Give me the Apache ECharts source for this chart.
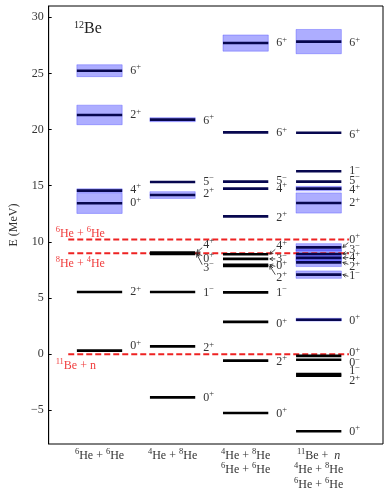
<!DOCTYPE html>
<html><head><meta charset="utf-8">
<script src="https://cdn.jsdelivr.net/npm/echarts@6/dist/echarts.min.js"></script>
<style>html,body{margin:0;padding:0;background:#fff}#c{width:391px;height:496px}</style>
</head><body><div id="c"></div>
<script>
// ---------------- data ----------------
const columnLabels = [
  '⁶He + ⁶He',
  '⁴He + ⁸He',
  '⁴He + ⁸He\n⁶He + ⁶He',
  '¹¹Be +  {i|n}\n⁴He + ⁸He\n⁶He + ⁶He'
];
const yTicks = [-5, 0, 5, 10, 15, 20, 25, 30];

// column 1: 6He+6He
const col1Energy = [25.24, 21.30, 14.56, 13.43, 5.54, 0.31];
const col1HalfWidth = [0.53, 0.87, 0.16, 0.90, 0, 0];
const col1Jpi = ['6⁺', '2⁺', '4⁺', '0⁺', '2⁺', '0⁺'];

// column 2: 4He+8He
const col2Energy = [20.88, 15.33, 14.17, 9.05, 8.98, 8.92, 5.54, 0.69, -3.85];
const col2HalfWidth = [0.18, 0, 0.30, 0, 0, 0, 0, 0, 0];
const col2Jpi = ['6⁺', '5⁻', '2⁺', '4⁺', '0⁺', '3⁻', '1⁻', '2⁺', '0⁺'];

// column 3: 4He+8He, 6He+6He
const col3Energy = [27.70, 19.75, 15.36, 14.74, 12.27, 8.90, 8.48, 7.95, 7.85, 5.50, 2.87, -0.58, -5.24];
const col3HalfWidth = [0.72, 0, 0, 0, 0, 0, 0, 0, 0, 0, 0, 0, 0];
const col3Jpi = ['6⁺', '6⁺', '5⁻', '4⁺', '2⁺', '4⁺', '3⁻', '0⁺', '2⁺', '1⁻', '0⁺', '2⁺', '0⁺'];

// column 4: 11Be+n, 4He+8He, 6He+6He
const col4Energy = [27.83, 19.72, 16.28, 15.36, 14.74, 13.46, 9.51, 8.92, 8.57, 8.17, 7.08, 3.07, -0.15, -0.50, -1.78, -1.92, -6.87];
const col4HalfWidth = [1.08, 0, 0, 0, 0.20, 0.90, 0.33, 0.40, 0.30, 0.37, 0.33, 0.12, 0, 0, 0, 0, 0];
const col4Jpi = ['6⁺', '6⁺', '1⁻', '5⁻', '4⁺', '2⁺', '0⁺', '3⁻', '4⁺', '2⁺', '1⁻', '0⁺', '0⁺', '0⁻', '1⁻', '2⁺', '0⁺'];

// thresholds
const thresholdEnergy = [10.2, 8.98, 0.0];
const thresholdNames = ['⁶He + ⁶He', '⁸He + ⁴He', '¹¹Be + n'];

// ---------------- layout (label placement, not data) ----------------
const col1LabelAt = [25.24, 21.30, 14.65, 13.43, 5.54, 0.70];
const col2LabelAt = [20.79, 15.36, 14.29, 9.75, 8.50, 7.70, 5.48, 0.55, -3.87];
const col3LabelAt = [27.70, 19.70, 15.40, 14.74, 12.15, 9.60, 8.48, 7.82, 6.81, 5.48, 2.70, -0.67, -5.30];
const col4LabelAt = [27.70, 19.55, 16.30, 15.45, 14.60, 13.46, 10.20, 9.30, 8.60, 7.73, 6.93, 2.98, 0.10, -0.78, -1.53, -2.42, -6.90];
const arrowGroups = [[], [3, 4, 5], [5, 6, 7, 8], [6, 7, 8, 9, 10]];
const thresholdLabelAt = [10.82, 8.15, -0.93];
const THR_X0 = 0.572, THR_X1 = 4.414, THR_TX = 0.40;
const HALF = 0.31, LABEL_DX = 8;
const X_MIN = 0.304, X_MAX = 4.88, Y_MIN = -8, Y_MAX = 31;

const FONT = '"Liberation Serif", "DejaVu Serif", serif';
const NAVY = '#07074f';
const BAND = 'rgba(0,0,255,0.32)';
const RED = '#ee2222';
const TXT = '#333';

// superscript -> rich text
const SUP = { '⁰': '0', '¹': '1', '²': '2', '³': '3', '⁴': '4', '⁵': '5', '⁶': '6', '⁷': '7', '⁸': '8', '⁹': '9', '⁺': '+', '⁻': '−' };
function rich(s, m, sp) {
  let out = '', cur = '', mode = null;
  const flush = () => { if (cur) { out += '{' + mode + '|' + cur + '}'; cur = ''; } };
  for (let i = 0; i < s.length; i++) {
    const ch = s[i];
    if (ch === '{') { flush(); const j = s.indexOf('}', i); out += s.slice(i, j + 1); i = j; mode = null; continue; }
    if (ch === '\n') { flush(); out += '\n'; mode = null; continue; }
    const md = SUP[ch] !== undefined ? sp : m;
    if (md !== mode) { flush(); mode = md; }
    cur += SUP[ch] !== undefined ? SUP[ch] : ch;
  }
  flush();
  return out;
}
function richStyles(size, supSize, lh, color, supLh) {
  return {
    m: { fontSize: size, fontFamily: FONT, lineHeight: lh, verticalAlign: 'bottom', fill: color, color: color },
    s: { fontSize: supSize, fontFamily: FONT, lineHeight: supLh, verticalAlign: 'top', fill: color, color: color },
    i: { fontSize: size, fontFamily: FONT, fontStyle: 'italic', lineHeight: lh, verticalAlign: 'bottom', fill: color, color: color }
  };
}
const LEVEL_RICH = richStyles(12, 8.5, 14, TXT, 11.5);
const THR_RICH = richStyles(12, 8.5, 14, '#f03c3c', 11);

// ---------------- build ----------------
const cols = [
  [col1Energy, col1HalfWidth, col1Jpi, col1LabelAt],
  [col2Energy, col2HalfWidth, col2Jpi, col2LabelAt],
  [col3Energy, col3HalfWidth, col3Jpi, col3LabelAt],
  [col4Energy, col4HalfWidth, col4Jpi, col4LabelAt]
];
const levelData = [], levelText = [];
cols.forEach((c, k) => {
  c[0].forEach((e, i) => {
    levelData.push([k + 1, e, c[1][i], c[3][i], arrowGroups[k].includes(i) ? 1 : 0]);
    levelText.push(c[2][i]);
  });
});

function bandItem(params, api) {
  const c = api.value(0), e = api.value(1), w = api.value(2);
  if (!(w > 0)) return null;
  const p1 = api.coord([c - HALF, e + w]), p2 = api.coord([c + HALF, e - w]);
  return {
    type: 'rect',
    shape: { x: p1[0], y: p1[1], width: p2[0] - p1[0], height: p2[1] - p1[1] },
    style: { fill: BAND, stroke: 'rgba(60,60,255,0.35)', lineWidth: 1 }
  };
}

function levelItem(params, api) {
  const c = api.value(0), e = api.value(1), w = api.value(2), le = api.value(3), arrow = api.value(4);
  const l = api.coord([c - HALF, e]), r = api.coord([c + HALF, e]);
  const ly = api.coord([c, le])[1];
  const navy = (w > 0) || e >= 12;
  const children = [{
    type: 'line',
    shape: { x1: l[0], y1: l[1], x2: r[0], y2: r[1] },
    style: { stroke: navy ? NAVY : '#000', lineWidth: 2.6 }
  }, {
    type: 'text',
    x: r[0] + LABEL_DX, y: ly - 1,
    style: { text: rich(levelText[params.dataIndex], 'm', 's'), rich: LEVEL_RICH, verticalAlign: 'middle', align: 'left' }
  }];
  if (arrow) {
    const sx = r[0] + LABEL_DX - 1, sy = ly + (ly < r[1] - 2 ? 3 : (ly > r[1] + 2 ? -3 : 0));
    const tx = r[0] + 1.5, ty = r[1];
    const dx = tx - sx, dy = ty - sy, len = Math.hypot(dx, dy) || 1;
    const ux = dx / len, uy = dy / len, hl = 3.2, hw = 1.8;
    const bx = tx - ux * hl, by = ty - uy * hl;
    children.push({
      type: 'line', shape: { x1: sx, y1: sy, x2: tx, y2: ty },
      style: { stroke: '#222', lineWidth: 0.8 }
    });
    children.push({
      type: 'polyline',
      shape: { points: [[bx - uy * hw, by + ux * hw], [tx, ty], [bx + uy * hw, by - ux * hw]] },
      style: { stroke: '#222', lineWidth: 0.8, fill: null }
    });
  }
  return { type: 'group', children };
}

function thresholdItem(params, api) {
  const e = api.value(0), le = api.value(1);
  const p1 = api.coord([THR_X0, e]), p2 = api.coord([THR_X1, e]);
  const t = api.coord([THR_TX, le]);
  return {
    type: 'group',
    children: [{
      type: 'line', shape: { x1: p1[0], y1: p1[1], x2: p2[0], y2: p2[1] },
      style: { stroke: RED, lineWidth: 2, lineDash: [6, 3] }
    }, {
      type: 'text', x: t[0], y: t[1],
      style: { text: rich(thresholdNames[params.dataIndex], 'm', 's'), rich: THR_RICH, verticalAlign: 'middle', align: 'left' }
    }]
  };
}

const AXIS_RICH = richStyles(12, 8.5, 14.5, TXT, 10);
const chart = echarts.init(document.getElementById('c'), null, { renderer: 'canvas' });
chart.setOption({
  animation: false,
  backgroundColor: '#fff',
  grid: { left: 41, right: 8, top: 6, bottom: 52, show: true, borderColor: '#000', borderWidth: 1, backgroundColor: 'transparent' },
  xAxis: {
    type: 'value', min: X_MIN, max: X_MAX,
    axisLine: { show: false }, axisTick: { show: false }, splitLine: { show: false },
    axisLabel: {
      customValues: [1, 2, 3, 4],
      formatter: v => rich(columnLabels[Math.round(v) - 1], 'm', 's'),
      color: TXT, fontFamily: FONT, fontSize: 12, lineHeight: 14.5, margin: 3,
      verticalAlign: 'top',
      rich: AXIS_RICH
    }
  },
  yAxis: {
    type: 'value', min: Y_MIN, max: Y_MAX,
    name: 'E (MeV)', nameLocation: 'middle', nameGap: 27,
    nameTextStyle: { fontFamily: FONT, fontSize: 12, color: TXT },
    axisLine: { show: true, lineStyle: { color: '#000', width: 1 } },
    axisTick: { show: true, inside: true, length: 3, customValues: yTicks, lineStyle: { color: '#000' } },
    splitLine: { show: false },
    axisLabel: {
      customValues: yTicks,
      formatter: v => String(v).replace('-', '−'),
      color: TXT, fontFamily: FONT, fontSize: 12, margin: 5
    }
  },
  graphic: [{
    type: 'text', left: 74, top: 20,
    style: { text: rich('¹²Be', 'm', 's'), rich: richStyles(16, 10, 17, '#222', 12) }
  }],
  series: [
    { type: 'custom', renderItem: bandItem, data: levelData, z: 1, silent: true },
    { type: 'custom', renderItem: thresholdItem, data: thresholdEnergy.map((e, i) => [e, thresholdLabelAt[i]]), z: 2, silent: true },
    { type: 'custom', renderItem: levelItem, data: levelData, z: 3, silent: true }
  ]
});
</script></body></html>
